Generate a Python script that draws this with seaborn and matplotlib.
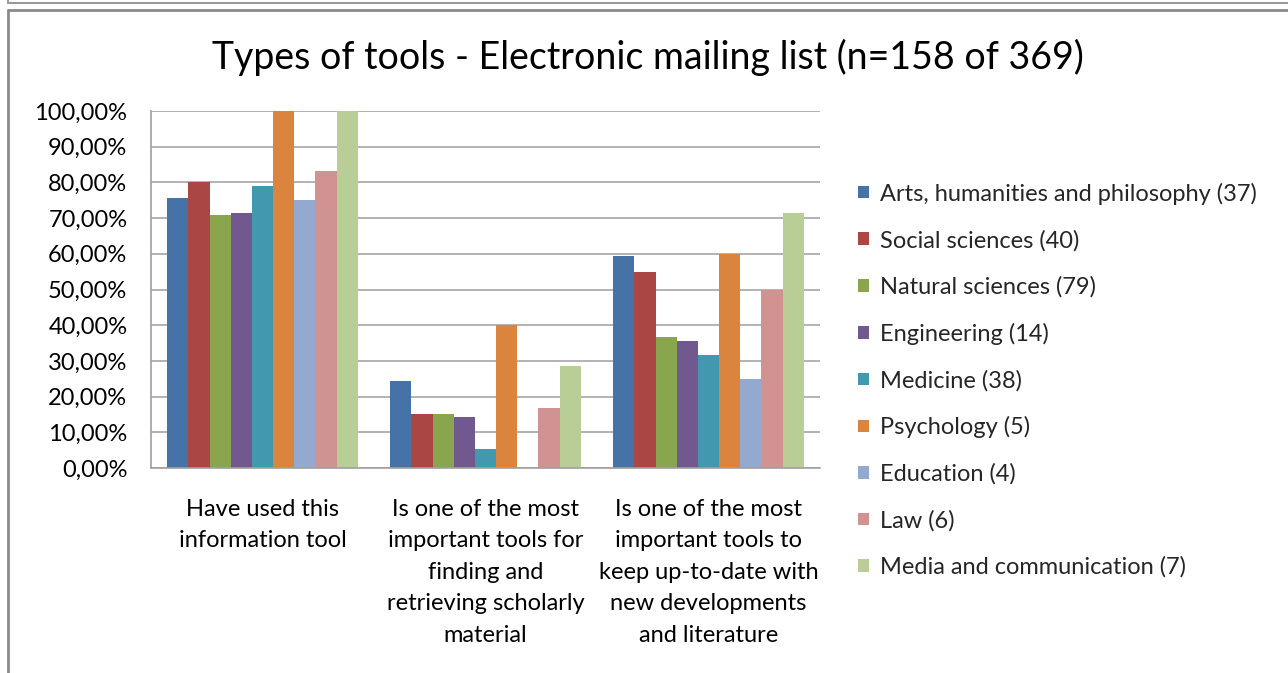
import matplotlib
matplotlib.use("Agg")
import matplotlib.pyplot as plt
import seaborn as sns
import pandas as pd
from matplotlib.lines import Line2D
from matplotlib.ticker import FuncFormatter

# ---- data ----
categories = [
    "Have used this\ninformation tool",
    "Is one of the most\nimportant tools for\nfinding and\nretrieving scholarly\nmaterial",
    "Is one of the most\nimportant tools to\nkeep up-to-date with\nnew developments\nand literature",
]
series = [
    "Arts, humanities and philosophy (37)",
    "Social sciences (40)",
    "Natural sciences (79)",
    "Engineering (14)",
    "Medicine (38)",
    "Psychology (5)",
    "Education (4)",
    "Law (6)",
    "Media and communication (7)",
]
arts = [75.68, 24.32, 59.46]
social = [80.00, 15.00, 55.00]
natural = [70.89, 15.19, 36.71]
engineering = [71.43, 14.29, 35.71]
medicine = [78.95, 5.26, 31.58]
psychology = [100.00, 40.00, 60.00]
education = [75.00, 0.00, 25.00]
law = [83.33, 16.67, 50.00]
media = [100.00, 28.57, 71.43]
yticks = [0, 10, 20, 30, 40, 50, 60, 70, 80, 90, 100]

colors = ["#4572A7", "#AA4643", "#89A54E", "#71588F", "#4198AF",
          "#DB843D", "#93A9CF", "#D19392", "#B9CD96"]

values = [arts, social, natural, engineering, medicine, psychology, education, law, media]
rows = []
for s, vals in zip(series, values):
    for c, v in zip(categories, vals):
        rows.append({"category": c, "series": s, "value": v})
df = pd.DataFrame(rows)

sns.set_style("white")
plt.rcParams["font.family"] = ["Lato", "DejaVu Sans"]

fig = plt.figure(figsize=(12.88, 6.73), dpi=100)
ax = fig.add_axes([151/1288, 1-468/673, 669/1288, 357/673])

sns.barplot(data=df, x="category", y="value", hue="series", order=categories,
            hue_order=series, palette=colors, width=0.855, saturation=1,
            ax=ax, legend=False, edgecolor="none", linewidth=0)

ax.set_ylim(0, 100)
ax.set_xlim(-0.5, 2.5)
ax.set_yticks(yticks)
ax.yaxis.set_major_formatter(FuncFormatter(lambda v, p: f"{v:.2f}".replace(".", ",") + "%"))
ax.grid(axis="y", color="#A6A6A6", linewidth=1.2)
ax.set_axisbelow(True)
ax.set_xlabel("")
ax.set_ylabel("")
for side in ["top", "right"]:
    ax.spines[side].set_visible(False)
for side in ["left", "bottom"]:
    ax.spines[side].set_color("#A0A0A0")
    ax.spines[side].set_linewidth(1.2)
ax.tick_params(axis="y", labelsize=17, colors="#000000", length=0, pad=17)
ax.tick_params(axis="x", labelsize=17, colors="#000000", length=0, pad=22)
for lbl in ax.get_xticklabels():
    lbl.set_linespacing(1.62)
    lbl.set_verticalalignment("top")

fig.text(648/1288, 1-57/673, "Types of tools - Electronic mailing list (n=158 of 369)",
         ha="center", va="center", fontsize=27, color="#000000")

handles = [plt.Rectangle((0, 0), 1, 1, facecolor=c, edgecolor="none") for c in colors]
leg = fig.legend(handles, series, loc="upper left", bbox_to_anchor=(849/1288, 1-173/673),
                 frameon=False, fontsize=17, handlelength=0.45, handleheight=0.45,
                 handletextpad=0.45, labelspacing=1.06, borderaxespad=0)

# frame lines
fig.add_artist(Line2D([8/1288, 8/1288], [1, 1-3/673], color="#9A9A9A", lw=1.5, transform=fig.transFigure))
fig.add_artist(Line2D([8/1288, 1], [1-3/673, 1-3/673], color="#9A9A9A", lw=1.5, transform=fig.transFigure))
fig.add_artist(Line2D([8/1288, 1], [1-9.5/673, 1-9.5/673], color="#8A8A8A", lw=2, transform=fig.transFigure))
fig.add_artist(Line2D([8/1288, 8/1288], [1-9.5/673, 0], color="#8A8A8A", lw=2, transform=fig.transFigure))

fig.savefig("out.png", dpi=100)
